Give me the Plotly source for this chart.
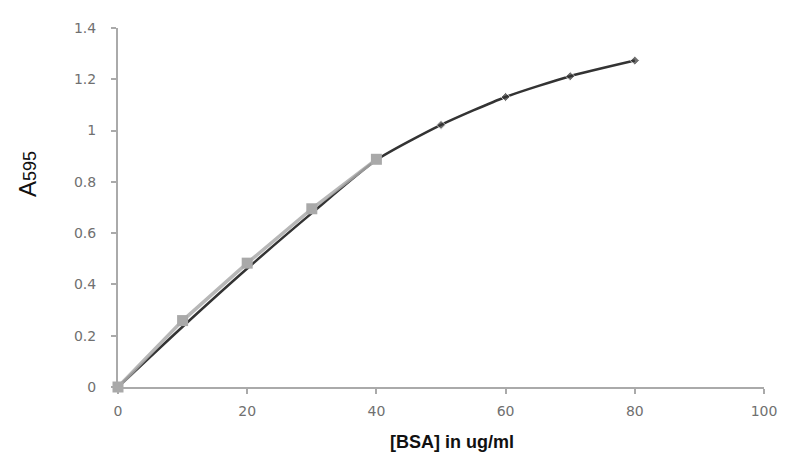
import plotly.graph_objects as go

# Data
conc_dark = [0, 10, 20, 30, 40, 50, 60, 70, 80]
abs_dark = [0, 0.235, 0.462, 0.678, 0.885, 1.022, 1.131, 1.212, 1.273]

conc_std = [0, 10, 20, 30, 40]
abs_std = [0, 0.259, 0.483, 0.695, 0.888]

x_ticks = [0, 20, 40, 60, 80, 100]
x_tick_labels = ["0", "20", "40", "60", "80", "100"]
y_ticks = [0, 0.2, 0.4, 0.6, 0.8, 1.0, 1.2, 1.4]
y_tick_labels = ["0", "0.2", "0.4", "0.6", "0.8", "1", "1.2", "1.4"]

fig = go.Figure()

fig.add_trace(go.Scatter(
    x=conc_dark, y=abs_dark, mode="lines+markers",
    line=dict(color="#333333", width=2.5, shape="spline", smoothing=0.6),
    marker=dict(symbol="diamond", size=[0, 0, 0, 0, 0, 7, 7, 7, 7], color="#333333"),
    showlegend=False, cliponaxis=False,
))
fig.add_trace(go.Scatter(
    x=conc_std, y=abs_std, mode="lines+markers",
    line=dict(color="rgba(170,170,170,0.85)", width=3.5),
    marker=dict(symbol="square", size=11, color="#a9a9a9"),
    showlegend=False, cliponaxis=False,
))

tickfont = dict(family="DejaVu Sans", size=14, color="#707070")
fig.update_xaxes(
    range=[0, 100], tickvals=x_ticks, ticktext=x_tick_labels,
    showline=True, linecolor="#aaaaaa", linewidth=2,
    ticks="outside", ticklen=5, tickcolor="#aaaaaa", tickwidth=1.5,
    showgrid=False, zeroline=False, tickfont=tickfont, ticklabelstandoff=5,
)
fig.update_yaxes(
    range=[0, 1.4], tickvals=y_ticks, ticktext=y_tick_labels,
    showline=True, linecolor="#aaaaaa", linewidth=2,
    ticks="outside", ticklen=5, tickcolor="#aaaaaa", tickwidth=1.5,
    showgrid=False, zeroline=False, tickfont=tickfont, ticklabelstandoff=12,
)

fig.add_annotation(
    text="<b>[BSA] in ug/ml</b>", xref="paper", yref="paper",
    x=0.517, y=-0.154, xanchor="center", yanchor="middle", showarrow=False,
    font=dict(family="Liberation Sans", size=18, color="#111111"),
)
fig.add_annotation(
    text="A<span style='font-size:18px'>595</span>", xref="paper", yref="paper",
    x=-0.14, y=0.592, xanchor="center", yanchor="middle", showarrow=False,
    textangle=-90,
    font=dict(family="Liberation Sans", size=24, color="#111111"),
)

fig.update_layout(
    width=781, height=448,
    margin=dict(l=110, r=21, t=16, b=69),
    paper_bgcolor="white", plot_bgcolor="white",
)

fig.write_html("out.html")
